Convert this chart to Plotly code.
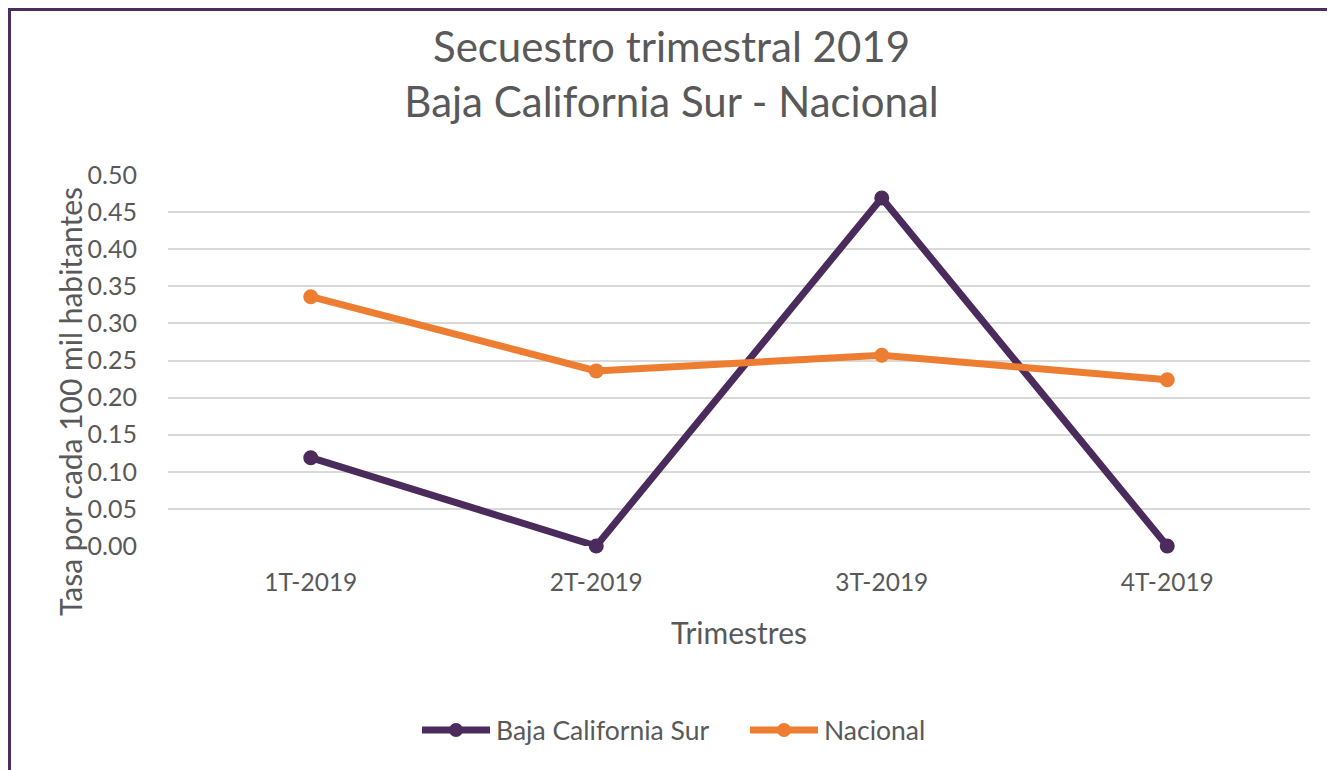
import plotly.graph_objects as go

# Datos del gráfico
trimestres = ["1T-2019", "2T-2019", "3T-2019", "4T-2019"]
baja_california_sur = [0.119, 0.0, 0.469, 0.0]
nacional = [0.336, 0.236, 0.257, 0.224]
y_ticks = [0.0, 0.05, 0.10, 0.15, 0.20, 0.25, 0.30, 0.35, 0.40, 0.45, 0.50]

series_names = ["Baja California Sur", "Nacional"]
series_values = [baja_california_sur, nacional]
series_colors = ["#4a2b5c", "#ed7d31"]

GRAY_TEXT = "#595959"
FONT = "Lato"

# la página tiene 8px de margen en body
W, H = 1327, 762
L, R, T, B = 160, 25, 167, 224
pw, ph = W - L - R, H - T - B


def px_x(x):
    return (x - L) / pw


def px_y(y):
    return 1 - (y - T) / ph


fig = go.Figure()

for name, vals, color in zip(series_names, series_values, series_colors):
    fig.add_trace(go.Scatter(
        x=trimestres, y=vals, mode="lines+markers",
        name=name,
        line=dict(color=color, width=7),
        marker=dict(color=color, size=15),
        cliponaxis=False,
        showlegend=False,
    ))

# leyenda dibujada a mano (líneas largas como en el original)
legend_line_x = [(414, 482), (742, 810)]
legend_y = 722
for (x0, x1), name, color in zip(legend_line_x, series_names, series_colors):
    fig.add_shape(type="line", xref="paper", yref="paper",
                  x0=px_x(x0), x1=px_x(x1), y0=px_y(legend_y), y1=px_y(legend_y),
                  line=dict(color=color, width=7))
    xm = (x0 + x1) / 2
    fig.add_shape(type="circle", xref="paper", yref="paper",
                  x0=px_x(xm - 7), x1=px_x(xm + 7),
                  y0=px_y(legend_y - 7), y1=px_y(legend_y + 7),
                  fillcolor=color, line=dict(width=0))
    fig.add_annotation(xref="paper", yref="paper", x=px_x(x1 + 4), y=px_y(legend_y),
                       xanchor="left", yanchor="middle", showarrow=False,
                       text=name, font=dict(size=26.5, color=GRAY_TEXT, family=FONT))

# título del eje Y (desplazado hacia abajo como en el original)
fig.add_annotation(xref="paper", yref="paper", x=px_x(62), y=px_y(394),
                   xanchor="center", yanchor="middle", showarrow=False,
                   textangle=-90, text="Tasa por cada 100 mil habitantes",
                   font=dict(size=30, color=GRAY_TEXT, family=FONT))

# marco del gráfico
fig.add_shape(type="line", xref="paper", yref="paper",
              x0=px_x(1.5), x1=px_x(1.5), y0=px_y(1.5), y1=px_y(800),
              line=dict(color="#4b2e5e", width=3))
fig.add_shape(type="line", xref="paper", yref="paper",
              x0=px_x(0), x1=px_x(1326), y0=px_y(1.5), y1=px_y(1.5),
              line=dict(color="#4b2e5e", width=3))
fig.add_shape(type="line", xref="paper", yref="paper",
              x0=px_x(1325.5), x1=px_x(1325.5), y0=px_y(1.5), y1=px_y(800),
              line=dict(color="#c9c4d4", width=2))

fig.update_layout(
    width=W, height=H,
    margin=dict(l=L, r=R, t=T, b=B),
    paper_bgcolor="white", plot_bgcolor="white",
    font=dict(family=FONT, color=GRAY_TEXT),
    title=dict(
        text="Secuestro trimestral 2019<br>Baja California Sur - Nacional",
        x=0.5, xanchor="center", y=1 - 54 / H, yanchor="middle",
        font=dict(size=42, color=GRAY_TEXT, family=FONT),
    ),
    xaxis=dict(
        type="category", range=[-0.5, 3.5],
        showgrid=False, showline=False, zeroline=False,
        ticks="", tickfont=dict(size=24.5, color=GRAY_TEXT),
        ticklabelstandoff=19,
        title=dict(text="Trimestres", font=dict(size=30, color=GRAY_TEXT), standoff=28),
        fixedrange=True,
    ),
    yaxis=dict(
        range=[0, 0.5], tickvals=y_ticks, tickformat=".2f",
        showgrid=True, gridcolor="#d9d9d9", gridwidth=1.5,
        zeroline=False, showline=False, ticks="",
        tickfont=dict(size=25, color=GRAY_TEXT),
        ticklabelstandoff=30,
        fixedrange=True,
    ),
    showlegend=False,
)

fig.write_html("out.html")
